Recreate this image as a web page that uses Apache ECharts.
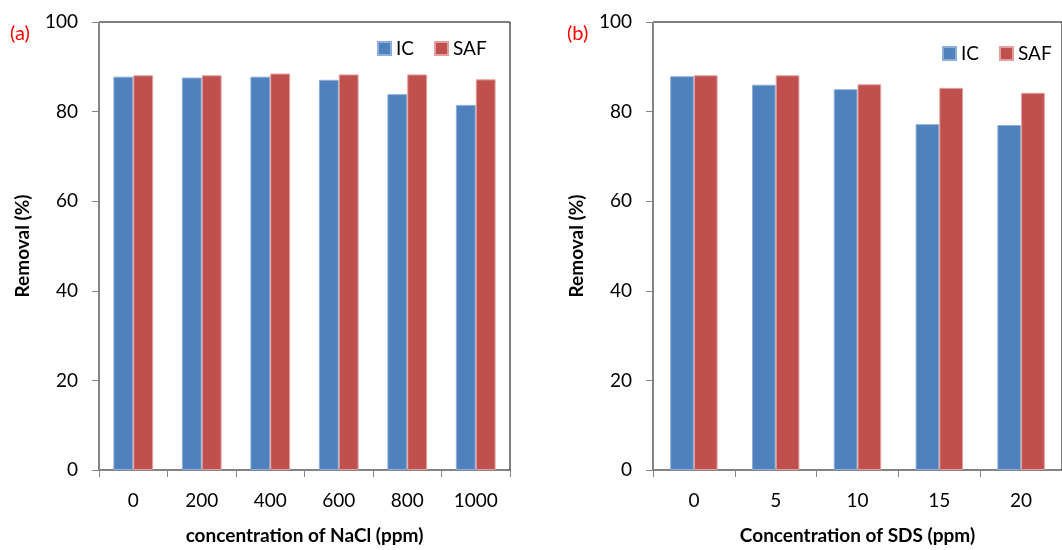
<!DOCTYPE html>
<html>
<head>
<meta charset="utf-8">
<script src="https://cdn.jsdelivr.net/npm/echarts@6/dist/echarts.min.js"></script>
<style>html,body{margin:0;padding:0;background:#fff;}#c{width:1062px;height:550px;}</style>
</head>
<body>
<div id="c"></div>
<script>
const naclCategories = ['0', '200', '400', '600', '800', '1000'];
const naclIC = [87.8, 87.6, 87.8, 87.1, 83.9, 81.5];
const naclSAF = [88.1, 88.1, 88.5, 88.3, 88.3, 87.2];
const sdsCategories = ['0', '5', '10', '15', '20'];
const sdsIC = [87.9, 86.0, 85.0, 77.2, 77.0];
const sdsSAF = [88.1, 88.1, 86.1, 85.3, 84.2];
const yTicks = { min: 0, max: 100, interval: 20 };
const seriesNames = ['IC', 'SAF'];
const panelLabels = ['(a)', '(b)'];
const xTitles = ['concentration of NaCl (ppm)', 'Concentration of SDS (ppm)'];
const yTitle = 'Removal (%)';

const FONT = 'Lato';
const AXIS_GRAY = '#868686';
const COL_IC = '#4F81BD';
const COL_SAF = '#C0504D';

function xAx(gi, cats, title) {
  return {
    type: 'category', gridIndex: gi, data: cats,
    axisLine: { lineStyle: { color: AXIS_GRAY, width: 1 } },
    axisTick: { show: true, length: 7, lineStyle: { color: AXIS_GRAY } },
    axisLabel: { color: '#000', fontFamily: FONT, fontSize: 19, margin: 21 },
    name: title, nameLocation: 'middle', nameGap: 56,
    nameTextStyle: { color: '#000', fontFamily: FONT, fontSize: 19, fontWeight: 'bold' }
  };
}
function yAx(gi) {
  return {
    type: 'value', gridIndex: gi, min: yTicks.min, max: yTicks.max, interval: yTicks.interval,
    splitLine: { show: false },
    axisLine: { show: true, lineStyle: { color: AXIS_GRAY, width: 1 } },
    axisTick: { show: true, length: 7, lineStyle: { color: AXIS_GRAY } },
    axisLabel: { color: '#000', fontFamily: FONT, fontSize: 19, margin: 21 },
    name: yTitle, nameLocation: 'middle', nameGap: 67,
    nameTextStyle: { color: '#000', fontFamily: FONT, fontSize: 19, fontWeight: 'bold' }
  };
}
function bar(name, gi, data, color, edge) {
  return {
    name: name, type: 'bar', xAxisIndex: gi, yAxisIndex: gi, data: data,
    barWidth: '29%', barGap: '0%',
    itemStyle: { color: color, borderColor: edge, borderWidth: 1 },
    emphasis: { disabled: true }
  };
}
const legendBase = {
  data: seriesNames, itemWidth: 13, itemHeight: 13, itemGap: 20, padding: 0,
  icon: 'rect',
  textStyle: { color: '#000', fontFamily: FONT, fontSize: 19 },
  selectedMode: false
};

const chart = echarts.init(document.getElementById('c'), null, { renderer: 'canvas' });
chart.setOption({
  animation: false,
  backgroundColor: '#fff',
  grid: [
    { left: 99, top: 22, width: 411, height: 454, show: true, borderColor: '#000', borderWidth: 1, backgroundColor: 'transparent' },
    { left: 653, top: 22, width: 417, height: 454, show: true, borderColor: '#000', borderWidth: 1, backgroundColor: 'transparent' }
  ],
  xAxis: [xAx(0, naclCategories, xTitles[0]), xAx(1, sdsCategories, xTitles[1])],
  yAxis: [yAx(0), yAx(1)],
  legend: [
    Object.assign({}, legendBase, { left: 377, top: 39 }),
    Object.assign({}, legendBase, { left: 942, top: 44 })
  ],
  graphic: [
    { type: 'text', left: 10, top: 24, style: { text: panelLabels[0], fill: '#ff0000', font: '20px ' + FONT } },
    { type: 'text', left: 567, top: 24, style: { text: panelLabels[1], fill: '#ff0000', font: '20px ' + FONT } }
  ],
  series: [
    bar(seriesNames[0], 0, naclIC, COL_IC, '#8DAEDA'),
    bar(seriesNames[1], 0, naclSAF, COL_SAF, '#E3A09E'),
    bar(seriesNames[0], 1, sdsIC, COL_IC, '#8DAEDA'),
    bar(seriesNames[1], 1, sdsSAF, COL_SAF, '#E3A09E')
  ]
});
</script>
</body>
</html>
